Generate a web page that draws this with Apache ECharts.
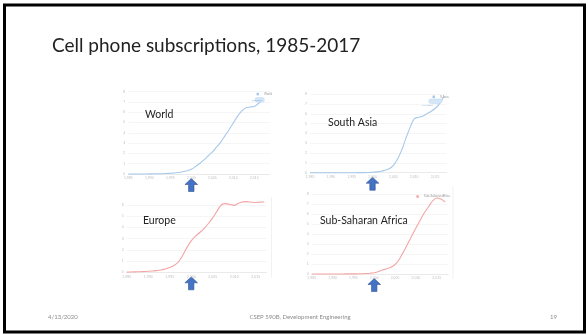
<!DOCTYPE html>
<html><head><meta charset="utf-8">
<script src="https://cdn.jsdelivr.net/npm/echarts@6/dist/echarts.min.js"></script>
<style>html,body{margin:0;padding:0;background:#fff}#c{width:588px;height:335px}</style>
</head><body><div id="c"></div>
<script>
const years = [1985,1986,1987,1988,1989,1990,1991,1992,1993,1994,1995,1996,1997,1998,1999,2000,2001,2002,2003,2004,2005,2006,2007,2008,2009,2010,2011,2012,2013,2014,2015,2016,2017];
const worldVals = [0,0,0,0,0,0.01,0.02,0.02,0.03,0.05,0.08,0.1,0.15,0.22,0.32,0.45,0.72,1.02,1.38,1.75,2.12,2.6,3.1,3.7,4.3,4.95,5.6,6.1,6.42,6.5,6.55,6.85,7.2];
const southAsiaVals = [0,0,0,0,0,0,0,0,0,0,0,0,0.01,0.01,0.02,0.04,0.08,0.14,0.25,0.4,0.75,1.4,2.3,3.5,4.6,5.5,5.65,5.75,6.0,6.25,6.55,7.0,7.7];
const europeVals = [0.02,0.03,0.04,0.05,0.07,0.09,0.12,0.15,0.2,0.3,0.42,0.6,0.9,1.5,2.2,2.8,3.22,3.55,3.9,4.35,4.85,5.45,6.0,6.12,6.05,5.97,6.15,6.28,6.3,6.25,6.22,6.26,6.27];
const ssaVals = [0,0,0,0,0,0,0,0,0.01,0.01,0.01,0.02,0.03,0.05,0.08,0.13,0.25,0.4,0.52,0.67,0.95,1.45,2.2,3.0,3.8,4.6,5.35,6.1,6.7,7.3,7.6,7.5,7.2];
const panelNames = ['World','South Asia','Europe','Sub-Saharan Africa'];
const legendNames = ['World','S Asia','Europe','Sub-Saharan Africa'];
const endBoxText = ['7.2 billion','7.7 billion'];
const markYear = 2000;
const slideTitle = 'Cell phone subscriptions, 1985-2017';
const footerDate = '4/13/2020';
const footerCourse = 'CSEP 590B, Development Engineering';
const footerPage = '19';

const blue = '#a6c8ea', red = '#f3a5a5';
const grids = [
  {left:128.3, top:91.6, width:141.5, height:82.4, xmax:2018.7, ymax:8, color:blue, box:[-3,0]},
  {left:310, top:94.3, width:136.7, height:78.4, xmax:2017.8, ymax:8, color:blue, box:[-8,4]},
  {left:126.7, top:205, width:139.75, height:67.3, xmax:2017.5, ymax:6, color:red},
  {left:311.7, top:194, width:136.3, height:80, xmax:2017.7, ymax:8, color:red}
];
const valsList = [worldVals, southAsiaVals, europeVals, ssaVals];
const font = 'Lato';

const chart = echarts.init(document.getElementById('c'));
const option = {
  animation:false,
  backgroundColor:'#fff',
  grid: grids.map(g=>({left:g.left, top:g.top, width:g.width, height:g.height, containLabel:false})),
  xAxis: grids.map((g,i)=>({type:'value', gridIndex:i, min:1985, max:g.xmax, interval:5,
    axisLine:{show:true, lineStyle:{color:'#e2e2e2', width:0.6}}, axisTick:{show:false}, splitLine:{show:false},
    axisLabel:{fontSize:3.5, color:'#bdbdbd', margin:2.5, showMaxLabel:false}})),
  yAxis: grids.map((g,i)=>({type:'value', gridIndex:i, min:0, max:g.ymax, interval:1,
    axisLine:{show:false}, axisTick:{show:false},
    splitLine:{show:true, lineStyle:{color:'#eeeeee', width:0.6}},
    axisLabel:{fontSize:3.5, color:'#bdbdbd', margin:3}})),
  series: valsList.map((vals,i)=>{
    const s = {type:'line', name:legendNames[i], xAxisIndex:i, yAxisIndex:i, smooth:0.35,
      clip:false, showSymbol:false, lineStyle:{color:grids[i].color, width:1.1}, itemStyle:{color:grids[i].color},
      data: years.map((y,k)=>[y, vals[k]])};
    if (grids[i].box) {
      s.markPoint = {symbol:'roundRect', symbolSize:[grids[i].box[0]===-3?9:13,4.5], symbolOffset:grids[i].box, silent:true,
        itemStyle:{color:'#d5e6f6', borderColor:'#b9d4ee', borderWidth:0.4},
        label:{show:true, formatter:endBoxText[i], fontSize:2.5, color:'#7aa6d3', offset:grids[i].box},
        data:[{coord:[years[years.length-1], vals[vals.length-1]]}]};
    }
    return s;
  }),
  title: [
    {text:slideTitle, left:47, top:31, textStyle:{fontFamily:font, fontWeight:'normal', fontSize:19, color:'#222'}},
    {text:panelNames[0], left:140, top:104, textStyle:{fontFamily:font, fontWeight:'normal', fontSize:10.5, color:'#222'}},
    {text:panelNames[1], left:323, top:112, textStyle:{fontFamily:font, fontWeight:'normal', fontSize:10.5, color:'#222'}},
    {text:panelNames[2], left:138, top:210, textStyle:{fontFamily:font, fontWeight:'normal', fontSize:10.5, color:'#222'}},
    {text:panelNames[3], left:315, top:210, textStyle:{fontFamily:font, fontWeight:'normal', fontSize:10.5, color:'#222'}},
    {text:footerDate, left:43, top:309, textStyle:{fontFamily:font, fontWeight:'normal', fontSize:6, color:'#8c8c8c'}},
    {text:footerCourse, left:295, top:309, textAlign:'center', textStyle:{fontFamily:font, fontWeight:'normal', fontSize:6, color:'#8c8c8c'}},
    {text:footerPage, left:545, top:309, textStyle:{fontFamily:font, fontWeight:'normal', fontSize:6, color:'#8c8c8c'}}
  ],
  legend: [0,1,3].map(i=>({data:[legendNames[i]], right:588-(grids[i].left+grids[i].width)-2, top:grids[i].top+1,
    itemWidth:2.5, itemHeight:2.5, itemGap:1, icon:'rect', padding:0, textStyle:{fontSize:3, color:'#999'}}))
};
chart.setOption(option);

// arrows + frame, arrows placed through the axes at the marked year
const gfx = [{type:'rect', shape:{x:4.5, y:5, width:580, height:327}, style:{fill:null, stroke:'#000', lineWidth:3}, silent:true}];
grids.forEach((g,i)=>{
  const p = chart.convertToPixel({xAxisIndex:i, yAxisIndex:i}, [markYear, 0]);
  const cx = p[0], top = p[1] + 4.5;
  const hw = 6.3, sw = 2.7, hh = 6, h = 13;
  gfx.push({type:'polygon', shape:{points:[[cx,top],[cx+hw,top+hh],[cx+sw,top+hh],[cx+sw,top+h],[cx-sw,top+h],[cx-sw,top+hh],[cx-hw,top+hh]]},
    style:{fill:'#4472c4', stroke:'#2f528f', lineWidth:0.6}, silent:true});
});
[2,3].forEach(i=>{
  const g = grids[i];
  const x = g.left + g.width + 5;
  gfx.push({type:'line', shape:{x1:x, y1:g.top-8, x2:x, y2:g.top+g.height+5}, style:{stroke:'#eeeeee', lineWidth:0.8}, silent:true});
});
chart.setOption({graphic:gfx});
</script></body></html>
